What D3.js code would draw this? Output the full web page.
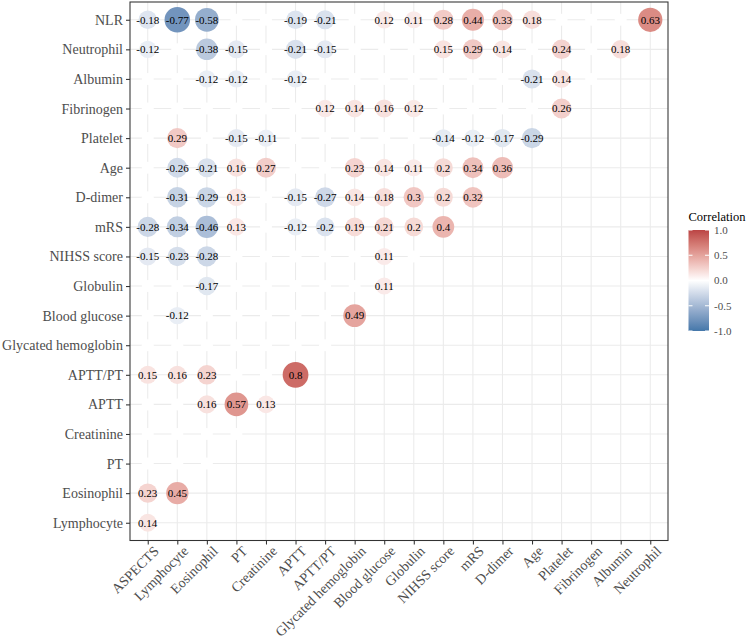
<!DOCTYPE html>
<html>
<head>
<meta charset="utf-8">
<script src="https://cdn.jsdelivr.net/npm/d3@7"></script>
<style>
  body { margin: 0; background: #fff; }
  text { font-family: "Liberation Serif", "Times New Roman", serif; }
</style>
</head>
<body>
<div id="chart"></div>
<script>
// column variables (x) and row variables (y, top to bottom)
var xVars = ["ASPECTS", "Lymphocyte", "Eosinophil", "PT", "Creatinine", "APTT", "APTT/PT",
    "Glycated hemoglobin", "Blood glucose", "Globulin", "NIHSS score", "mRS", "D-dimer",
    "Age", "Platelet", "Fibrinogen", "Albumin", "Neutrophil"];
var yVars = ["NLR", "Neutrophil", "Albumin", "Fibrinogen", "Platelet", "Age", "D-dimer", "mRS",
    "NIHSS score", "Globulin", "Blood glucose", "Glycated hemoglobin", "APTT/PT", "APTT",
    "Creatinine", "PT", "Eosinophil", "Lymphocyte"];

// correlation values per row (null = not significant, drawn blank)
var rNLR = [-0.18, -0.77, -0.58, null, null, -0.19, -0.21, null, 0.12, 0.11, 0.28, 0.44, 0.33, 0.18, null, null, null, 0.63];
var rNeutrophil = [-0.12, null, -0.38, -0.15, null, -0.21, -0.15, null, null, null, 0.15, 0.29, 0.14, null, 0.24, null, 0.18];
var rAlbumin = [null, null, -0.12, -0.12, null, -0.12, null, null, null, null, null, null, null, -0.21, 0.14, null];
var rFibrinogen = [null, null, null, null, null, null, 0.12, 0.14, 0.16, 0.12, null, null, null, null, 0.26];
var rPlatelet = [null, 0.29, null, -0.15, -0.11, null, null, null, null, null, -0.14, -0.12, -0.17, -0.29];
var rAge = [null, -0.26, -0.21, 0.16, 0.27, null, null, 0.23, 0.14, 0.11, 0.2, 0.34, 0.36];
var rDdimer = [null, -0.31, -0.29, 0.13, null, -0.15, -0.27, 0.14, 0.18, 0.3, 0.2, 0.32];
var rMRS = [-0.28, -0.34, -0.46, 0.13, null, -0.12, -0.2, 0.19, 0.21, 0.2, 0.4];
var rNIHSS = [-0.15, -0.23, -0.28, null, null, null, null, null, 0.11, null];
var rGlobulin = [null, null, -0.17, null, null, null, null, null, 0.11];
var rGlucose = [null, -0.12, null, null, null, null, null, 0.49];
var rHbA1c = [null, null, null, null, null, null, null];
var rAPTTPT = [0.15, 0.16, 0.23, null, null, 0.8];
var rAPTT = [null, null, 0.16, 0.57, 0.13];
var rCreatinine = [null, null, null, null];
var rPT = [null, null, null];
var rEosinophil = [0.23, 0.45];
var rLymphocyte = [0.14];

var rows = [rNLR, rNeutrophil, rAlbumin, rFibrinogen, rPlatelet, rAge, rDdimer, rMRS, rNIHSS,
    rGlobulin, rGlucose, rHbA1c, rAPTTPT, rAPTT, rCreatinine, rPT, rEosinophil, rLymphocyte];

var legendTicks = [1, 0.5, 0, -0.5, -1];

var cells = [];
rows.forEach(function (vals, i) {
    vals.forEach(function (v, j) {
        cells.push({ y: yVars[i], x: xVars[j], r: v });
    });
});

var serif = "Liberation Serif";
var svgWidth = 750, svgHeight = 641;
var panel = { left: 130, right: 668, top: 2, bottom: 540.5 };

var svg = d3.select("#chart").append("svg")
    .attr("width", svgWidth)
    .attr("height", svgHeight)
    .attr("font-family", serif);

var x = d3.scalePoint().domain(xVars).range([panel.left, panel.right]).padding(0.6);
var y = d3.scalePoint().domain(yVars).range([panel.top, panel.bottom]).padding(0.6);

var color = d3.scaleLinear().domain([-1, 0, 1])
    .range(["#4477AA", "#FFFFFF", "#BB4444"])
    .interpolate(d3.interpolateLab);
var size = d3.scaleSqrt().domain([0, 0.8]).range([6, 12.9]);

// grid
var grid = svg.append("g");
grid.selectAll(".gx").data(xVars).enter().append("line")
    .attr("x1", d => x(d)).attr("x2", d => x(d))
    .attr("y1", panel.top).attr("y2", panel.bottom)
    .attr("stroke", "#EBEBEB").attr("stroke-width", 1.07);
grid.selectAll(".gy").data(yVars).enter().append("line")
    .attr("y1", d => y(d)).attr("y2", d => y(d))
    .attr("x1", panel.left).attr("x2", panel.right)
    .attr("stroke", "#EBEBEB").attr("stroke-width", 1.07);

// circles
svg.append("g").selectAll("circle")
    .data(cells)
    .enter()
    .append("circle")
    .attr("cx", d => x(d.x))
    .attr("cy", d => y(d.y))
    .attr("r", d => size(d.r === null ? 0 : Math.abs(d.r)))
    .attr("fill", d => d.r === null ? "#FFFFFF" : color(d.r));

svg.append("g").selectAll("text")
    .data(cells.filter(d => d.r !== null))
    .enter()
    .append("text")
    .attr("x", d => x(d.x))
    .attr("y", d => y(d.y))
    .attr("dy", "0.35em")
    .attr("text-anchor", "middle")
    .attr("font-family", serif)
    .attr("font-size", "11px")
    .attr("fill", "#000")
    .text(d => d.r);

// panel border
svg.append("rect")
    .attr("x", panel.left).attr("y", panel.top)
    .attr("width", panel.right - panel.left).attr("height", panel.bottom - panel.top)
    .attr("fill", "none").attr("stroke", "#333").attr("stroke-width", 1.07);

// axes
var bottomAxis = d3.axisBottom(x).tickSize(4).tickPadding(3);
var leftAxis = d3.axisLeft(y).tickSize(4).tickPadding(3);

var gx = svg.append("g")
    .attr("transform", `translate(0, ${panel.bottom})`)
    .call(bottomAxis)
    .attr("font-family", serif);
gx.select(".domain").remove();
gx.selectAll(".tick line").attr("stroke", "#333").attr("stroke-width", 1.07);
gx.selectAll(".tick text")
    .attr("font-size", "14px")
    .attr("font-family", serif)
    .attr("fill", "#4D4D4D")
    .attr("text-anchor", "end")
    .attr("transform", "translate(4, 4) rotate(-45)")
    .attr("x", 0).attr("y", 0).attr("dy", "0.75em");

var gy = svg.append("g")
    .attr("transform", `translate(${panel.left}, 0)`)
    .call(leftAxis)
    .attr("font-family", serif);
gy.select(".domain").remove();
gy.selectAll(".tick line").attr("stroke", "#333").attr("stroke-width", 1.07);
gy.selectAll(".tick text")
    .attr("font-size", "14px")
    .attr("font-family", serif)
    .attr("fill", "#4D4D4D");

// legend
var legend = { x: 688.5, y: 230, w: 20.5, h: 101 };
var defs = svg.append("defs");
var grad = defs.append("linearGradient").attr("id", "corrGrad")
    .attr("x1", 0).attr("y1", 0).attr("x2", 0).attr("y2", 1);
d3.range(0, 21).forEach(function (k) {
    var v = 1 - k / 10;
    grad.append("stop").attr("offset", (k / 20 * 100) + "%").attr("stop-color", color(v));
});

var ly = d3.scaleLinear().domain([-1, 1]).range([legend.y + legend.h, legend.y]);

svg.append("text")
    .attr("x", legend.x).attr("y", 221)
    .attr("font-family", serif)
    .attr("font-size", "12.5px")
    .attr("fill", "#000")
    .text("Correlation");

svg.append("rect")
    .attr("x", legend.x).attr("y", legend.y)
    .attr("width", legend.w).attr("height", legend.h)
    .attr("fill", "url(#corrGrad)");

var lt = svg.append("g");
legendTicks.forEach(function (t) {
    lt.append("line").attr("x1", legend.x).attr("x2", legend.x + 4)
        .attr("y1", ly(t)).attr("y2", ly(t)).attr("stroke", "#fff").attr("stroke-width", 1);
    lt.append("line").attr("x1", legend.x + legend.w - 4).attr("x2", legend.x + legend.w)
        .attr("y1", ly(t)).attr("y2", ly(t)).attr("stroke", "#fff").attr("stroke-width", 1);
    lt.append("text")
        .attr("x", legend.x + legend.w + 5)
        .attr("y", ly(t))
        .attr("dy", "0.35em")
        .attr("font-family", serif)
        .attr("font-size", "11px")
        .attr("fill", "#4D4D4D")
        .text(d3.format(".1f")(t).replace("−", "-"));
});
</script>
</body>
</html>
